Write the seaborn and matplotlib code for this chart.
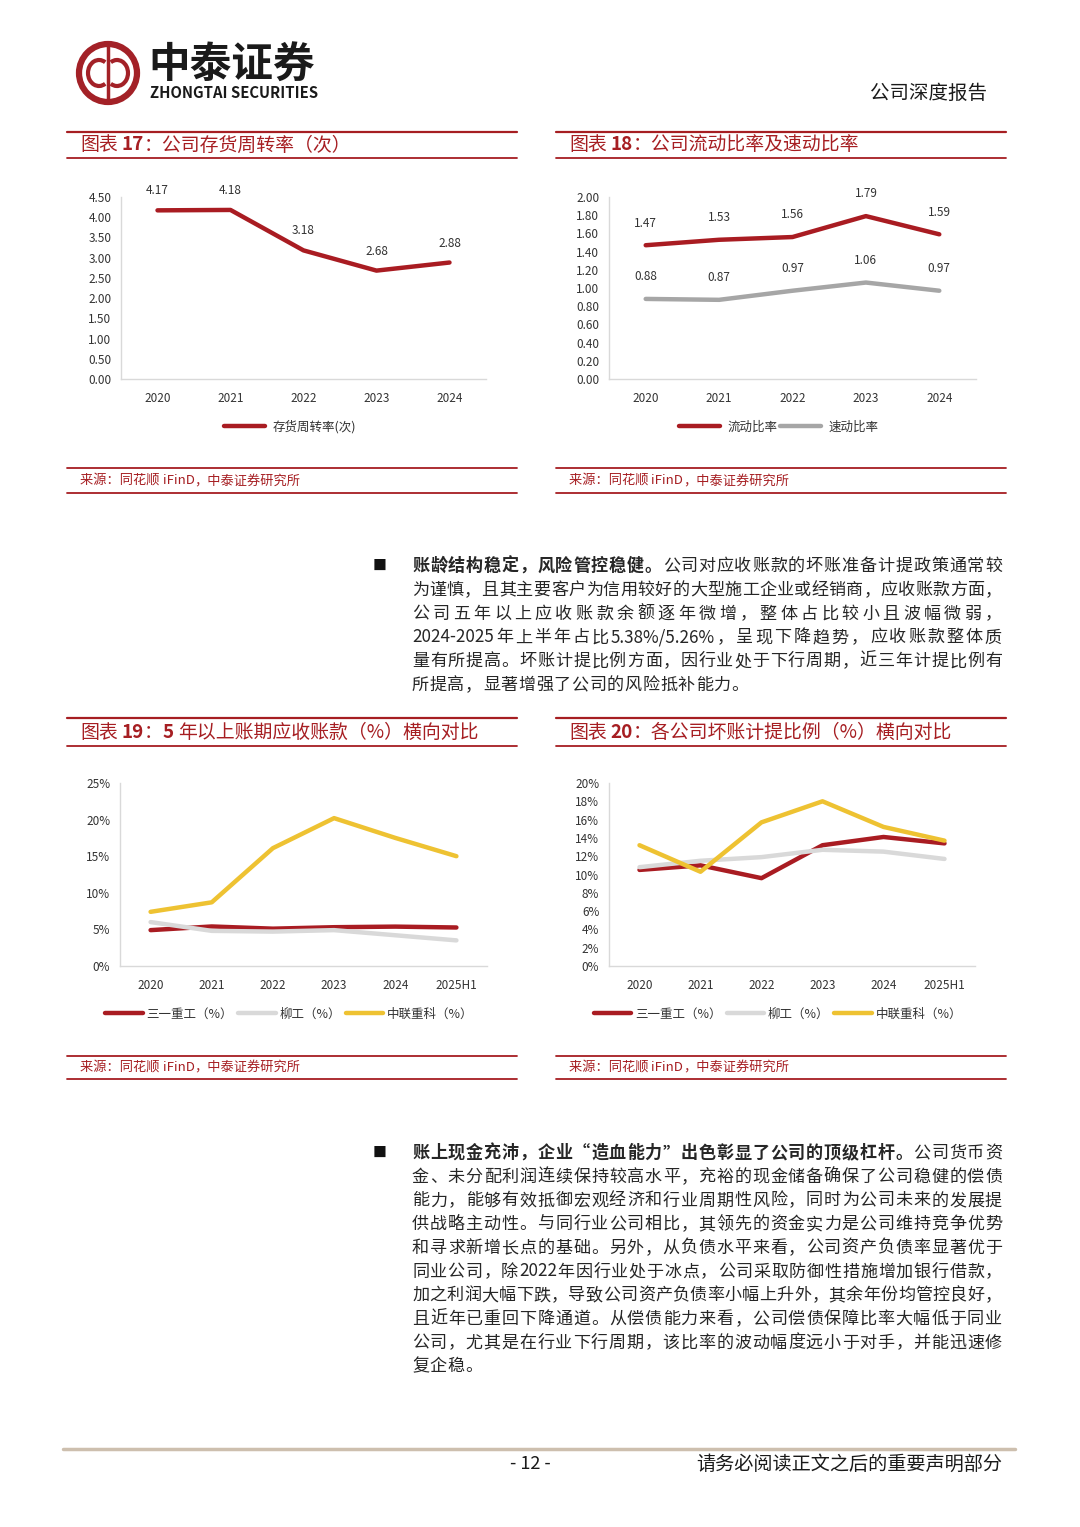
import re
import numpy as np
import pandas as pd
import matplotlib
matplotlib.use("Agg")
import matplotlib.pyplot as plt
import matplotlib.patches as mpatches
import seaborn as sns

# ---- data ----
years_a = ["2020", "2021", "2022", "2023", "2024"]
turnover = [4.17, 4.18, 3.18, 2.68, 2.88]
current_ratio = [1.47, 1.53, 1.56, 1.79, 1.59]
quick_ratio = [0.88, 0.87, 0.97, 1.06, 0.97]

years_b = ["2020", "2021", "2022", "2023", "2024", "2025H1"]
companies = ["三一重工（%）", "柳工（%）", "中联重科（%）"]
over5y_sany = [4.9, 5.4, 5.1, 5.3, 5.38, 5.26]
over5y_liugong = [6.0, 4.8, 4.7, 4.9, 4.2, 3.5]
over5y_zoomlion = [7.4, 8.7, 16.1, 20.2, 17.5, 15.0]
bad_sany = [10.5, 11.0, 9.6, 13.2, 14.1, 13.4]
bad_liugong = [10.8, 11.5, 11.9, 12.7, 12.5, 11.7]
bad_zoomlion = [13.2, 10.3, 15.7, 18.0, 15.2, 13.7]

para1 = [
    "账龄结构稳定，风险管控稳健。公司对应收账款的坏账准备计提政策通常较",
    "为谨慎，且其主要客户为信用较好的大型施工企业或经销商，应收账款方面，",
    "公司五年以上应收账款余额逐年微增，整体占比较小且波幅微弱，",
    "2024-2025 年上半年占比 5.38%/5.26%，呈现下降趋势，应收账款整体质",
    "量有所提高。坏账计提比例方面，因行业处于下行周期，近三年计提比例有",
    "所提高，显著增强了公司的风险抵补能力。",
]
para2 = [
    "账上现金充沛，企业“造血能力”出色彰显了公司的顶级杠杆。公司货币资",
    "金、未分配利润连续保持较高水平，充裕的现金储备确保了公司稳健的偿债",
    "能力，能够有效抵御宏观经济和行业周期性风险，同时为公司未来的发展提",
    "供战略主动性。与同行业公司相比，其领先的资金实力是公司维持竞争优势",
    "和寻求新增长点的基础。另外，从负债水平来看，公司资产负债率显著优于",
    "同业公司，除 2022 年因行业处于冰点，公司采取防御性措施增加银行借款，",
    "加之利润大幅下跌，导致公司资产负债率小幅上升外，其余年份均管控良好，",
    "且近年已重回下降通道。从偿债能力来看，公司偿债保障比率大幅低于同业",
    "公司，尤其是在行业下行周期，该比率的波动幅度远小于对手，并能迅速修",
    "复企稳。",
]

RED = "#A61E22"
LINE_RED = "#A91C22"
GRAY = "#A6A6A6"
LGRAY = "#D9D9D9"
GOLD = "#EEC232"
TXT = "#262626"

sns.set_theme(style="white")
plt.rcParams["font.family"] = ["Noto Sans CJK SC", "DejaVu Sans"]

W, H = 1080, 1527
fig = plt.figure(figsize=(W / 100, H / 100), dpi=100)
fig.patch.set_facecolor("white")
bg = fig.add_axes([0, 0, 1, 1])
bg.set_xlim(0, W)
bg.set_ylim(H, 0)
bg.axis("off")
renderer = fig.canvas.get_renderer()


def text_width(s, size, weight="normal"):
    t = bg.text(0, 0, s, fontsize=size, fontweight=weight)
    w = t.get_window_extent(renderer=renderer).width
    t.remove()
    return w


def draw_line_text(s, x0, x1, y, size, bold_n=0, justify=True, color=TXT):
    # lay out one line char by char, spread to full width (justified)
    tokens = []
    for m in re.finditer(r"[A-Za-z0-9.%/\-]+|\S", s):
        tokens.append((m.group(), "bold" if m.start() < bold_n else "normal"))
    widths = [text_width(t, size, w) for t, w in tokens]
    total = sum(widths)
    if justify and len(tokens) > 1:
        gap = (x1 - x0 - total) / (len(tokens) - 1)
    else:
        gap = 0.6
    x = x0
    for (t, w), tw in zip(tokens, widths):
        bg.text(x, y, t, fontsize=size, fontweight=w, color=color,
                ha="left", va="center")
        x += tw + gap


def draw_runs(runs, x, y, size, color):
    for s, w, extra in runs:
        bg.text(x, y, s, fontsize=size, fontweight=w, color=color,
                ha="left", va="center")
        x += text_width(s, size, w) + extra


# ---- header ----
bg.add_patch(mpatches.Circle((108, 73), 29, fill=False, ec="#A32127", lw=4.5))
bg.add_patch(mpatches.Arc((99, 73), 22, 26, theta1=60, theta2=300, ec="#A32127", lw=3))
bg.add_patch(mpatches.Arc((117, 73), 22, 26, theta1=-120, theta2=120, ec="#A32127", lw=3))
bg.plot([108, 108], [46, 100], color="#A32127", lw=2.5)
bg.text(148, 66, "中泰证券", fontsize=30, fontweight="bold", color="#1A1A1A",
        ha="left", va="center")
bg.text(150, 93, "ZHONGTAI SECURITIES", fontsize=10.7, fontweight="bold",
        color="#1A1A1A", ha="left", va="center")
bg.text(987, 93, "公司深度报告", fontsize=14, color="#1A1A1A", ha="right", va="center")

# ---- chart frames ----
frames = [
    (67, 517, 132, 158, 468, 493, [("图表", "normal", 4), ("17", "bold", 0), ("：公司存货周转率（次）", "normal", 0)]),
    (556, 1006, 132, 158, 468, 493, [("图表", "normal", 4), ("18", "bold", 0), ("：公司流动比率及速动比率", "normal", 0)]),
    (67, 517, 718, 746, 1056, 1079, [("图表", "normal", 4), ("19", "bold", 0), ("：", "normal", 0), ("5", "bold", 4), ("年以上账期应收账款（%）横向对比", "normal", 0)]),
    (556, 1006, 718, 746, 1056, 1079, [("图表", "normal", 4), ("20", "bold", 0), ("：各公司坏账计提比例（%）横向对比", "normal", 0)]),
]
for x0, x1, t1, t2, s1, s2, runs in frames:
    bg.plot([x0, x1], [t1, t1], color=RED, lw=1.6)
    bg.plot([x0, x1], [t2, t2], color=RED, lw=1.3)
    bg.plot([x0, x1], [s1, s1], color=RED, lw=1.3)
    bg.plot([x0, x1], [s2, s2], color=RED, lw=1.3)
    draw_runs(runs, x0 + 13, (t1 + t2) / 2, 13.6, RED)
    draw_runs([("来源：同花顺 ", "normal", 0), ("iFinD", "normal", 0), ("，中泰证券研究所", "normal", 0)],
              x0 + 13, (s1 + s2) / 2, 9.5, RED)


def make_axes(left, right, top, bottom):
    return fig.add_axes([left / W, 1 - bottom / H, (right - left) / W, (bottom - top) / H])


def style_axes(ax, n, ymax, step, fmt):
    ax.set_xlim(-0.5, n - 0.5)
    ax.set_ylim(0, ymax)
    ax.set_yticks(np.arange(0, ymax + step / 2, step))
    ax.yaxis.set_major_formatter(matplotlib.ticker.FormatStrFormatter(fmt))
    ax.set_xticks(np.arange(n))
    ax.set_xticks(np.arange(-0.5, n, 1), minor=True)
    for side in ["top", "right"]:
        ax.spines[side].set_visible(False)
    for side in ["left", "bottom"]:
        ax.spines[side].set_color(LGRAY)
        ax.spines[side].set_linewidth(1.0)
    ax.tick_params(axis="x", which="major", length=0, pad=9, labelsize=8.5, labelcolor="#333333")
    ax.tick_params(axis="x", which="minor", length=3, direction="in", color=LGRAY, width=1)
    ax.tick_params(axis="y", which="major", length=3, direction="in", color=LGRAY, width=1,
                   pad=7, labelsize=8.5, labelcolor="#333333")
    ax.set_xlabel("")
    ax.set_ylabel("")
    ax.set_facecolor("white")
    ax.grid(False)


def legend(ax, x, y, colspacing, hl=3.3, tp=0.6):
    ax.legend(loc="center", bbox_to_anchor=(x, y), ncol=3, frameon=False,
              fontsize=9, handlelength=hl, handletextpad=tp,
              columnspacing=colspacing, labelcolor="#333333")


# chart 17
ax1 = make_axes(121, 486, 197, 379)
df1 = pd.DataFrame({"x": np.arange(len(years_a)), "v": turnover})
sns.lineplot(data=df1, x="x", y="v", ax=ax1, color=LINE_RED, linewidth=3.2, label="存货周转率(次)")
style_axes(ax1, len(years_a), 4.5, 0.5, "%.2f")
ax1.set_xticklabels(years_a)
for i, v in enumerate(turnover):
    ax1.annotate(f"{v:.2f}", (i, v), xytext=(0, 14), textcoords="offset points",
                 ha="center", va="center", fontsize=8.5, color="#333333")
legend(ax1, 0.463, -0.264, 0.3)

# chart 18
ax2 = make_axes(609, 976, 197, 379)
df2 = pd.DataFrame({"x": np.arange(len(years_a)), "流动比率": current_ratio, "速动比率": quick_ratio})
sns.lineplot(data=df2, x="x", y="流动比率", ax=ax2, color=LINE_RED, linewidth=3.2, label="流动比率")
sns.lineplot(data=df2, x="x", y="速动比率", ax=ax2, color=GRAY, linewidth=3.2, label="速动比率")
style_axes(ax2, len(years_a), 2.0, 0.2, "%.2f")
ax2.set_xticklabels(years_a)
for series in (current_ratio, quick_ratio):
    for i, v in enumerate(series):
        ax2.annotate(f"{v:.2f}", (i, v), xytext=(0, 16), textcoords="offset points",
                     ha="center", va="center", fontsize=8.5, color="#333333")
legend(ax2, 0.463, -0.264, 0.2)

# charts 19 and 20
for (left, right), vals, ymax, step in [
    ((120, 487), (over5y_sany, over5y_liugong, over5y_zoomlion), 25, 5),
    ((609, 975), (bad_sany, bad_liugong, bad_zoomlion), 20, 2),
]:
    ax = make_axes(left, right, 783, 966)
    df = pd.DataFrame({"x": np.arange(len(years_b))})
    for name, v, c in zip(companies, vals, [LINE_RED, LGRAY, GOLD]):
        df[name] = v
        sns.lineplot(data=df, x="x", y=name, ax=ax, color=c, linewidth=3.2, label=name)
    style_axes(ax, len(years_b), ymax, step, "%d%%")
    ax.set_xticklabels(years_b)
    legend(ax, 0.462, -0.262, 0.4, hl=3.0, tp=0.3)

# ---- body text ----
TX0, TX1 = 412, 1002
bg.text(380, 566, "■", fontsize=10, color="#111111", ha="center", va="center")
for i, line in enumerate(para1):
    draw_line_text(line, TX0, TX1, 566 + i * 23.8, 12.3,
                   bold_n=14 if i == 0 else 0, justify=(i != len(para1) - 1))

bg.text(380, 1153, "■", fontsize=10, color="#111111", ha="center", va="center")
for i, line in enumerate(para2):
    draw_line_text(line, TX0, TX1, 1153 + i * 23.7, 12.3,
                   bold_n=28 if i == 0 else 0, justify=(i != len(para2) - 1))

# ---- footer ----
bg.plot([63, 1015], [1449, 1449], color="#CDBFAE", lw=2.5)
bg.text(530, 1464, "- 12 -", fontsize=13, color="#1A1A1A", ha="center", va="center")
bg.text(1002, 1464, "请务必阅读正文之后的重要声明部分", fontsize=13.8, color="#1A1A1A",
        ha="right", va="center")

fig.savefig("out.png", dpi=100, facecolor="white")
